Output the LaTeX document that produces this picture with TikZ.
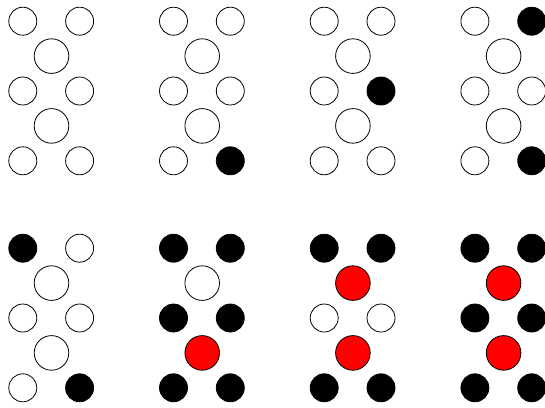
\documentclass[tikz,border=0pt]{standalone}
\begin{document}
\begin{tikzpicture}[x=1pt,y=-1pt,
  dot/.style={circle,draw=black,line width=0.8pt,inner sep=0pt,minimum size=28pt},
  bigdot/.style={circle,draw=black,line width=0.8pt,inner sep=0pt,minimum size=34.6pt}]
\useasboundingbox (0,0) rectangle (545,407);
\foreach \n/\px/\py/\a/\b/\c/\d/\e/\f/\g/\h in {
  1/0/0/white/white/white/white/white/white/white/white,
  2/150.7/0/white/white/white/white/white/white/white/black,
  3/301.4/0/white/white/white/white/black/white/white/white,
  4/452.1/0/white/black/white/white/white/white/white/black,
  5/0/227/black/white/white/white/white/white/white/black,
  6/150.7/227/black/black/white/black/black/red/black/black,
  7/301.4/227/black/black/red/white/white/red/black/black,
  8/452.1/227/black/black/red/black/black/red/black/black}{
  \node[dot,fill=\a] (p\n tl) at (\px+22.8,\py+21.2) {};
  \node[dot,fill=\b] (p\n tr) at (\px+79.6,\py+21.2) {};
  \node[bigdot,fill=\c] (p\n ba) at (\px+51.5,\py+56.1) {};
  \node[dot,fill=\d] (p\n ml) at (\px+22.8,\py+91.0) {};
  \node[dot,fill=\e] (p\n mr) at (\px+79.6,\py+91.0) {};
  \node[bigdot,fill=\f] (p\n bb) at (\px+51.5,\py+125.9) {};
  \node[dot,fill=\g] (p\n bl) at (\px+22.8,\py+160.8) {};
  \node[dot,fill=\h] (p\n br) at (\px+79.6,\py+160.8) {};
}
\end{tikzpicture}
\end{document}
